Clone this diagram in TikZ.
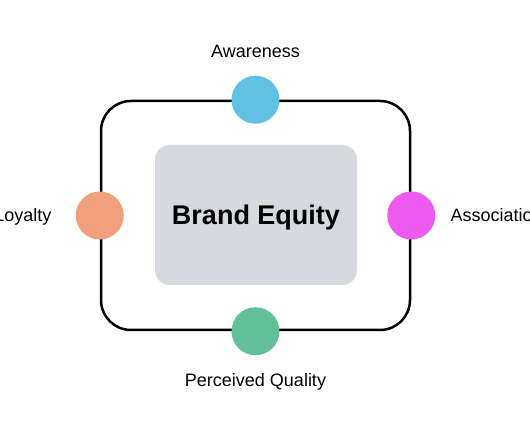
\documentclass[tikz,border=0pt]{standalone}
\usepackage{fontspec}
\setmainfont{Liberation Sans}
\usetikzlibrary{
  positioning
}
\definecolor{awarecolor}{RGB}{96,193,228}
\definecolor{loyalcolor}{RGB}{240,160,124}
\definecolor{assoccolor}{RGB}{236,90,240}
\definecolor{qualitycolor}{RGB}{98,192,153}
\definecolor{corecolor}{RGB}{214,217,222}
\tikzset{
  ring/.style={
    rectangle,
    draw=black,
    line width=2.5pt,
    rounded corners=30pt,
    minimum width=309pt,
    minimum height=229pt
  },
  core/.style={
    rectangle,
    fill=corecolor,
    rounded corners=15pt,
    minimum width=202pt,
    minimum height=140pt,
    text height=19.5pt,
    text depth=0pt,
    font=\fontsize{27}{32}\selectfont\bfseries
  },
  dimension/.style={
    circle,
    fill=#1,
    minimum size=48pt,
    inner sep=0pt
  },
  dimlabel/.style={
    inner sep=0pt,
    text height=13pt,
    text depth=0pt,
    font=\fontsize{18}{22}\selectfont
  }
}

\begin{document}
\begin{tikzpicture}
  \useasboundingbox (0,0) rectangle (530pt,442pt);

  % Outer loop
  \node[ring] (ring) at (255.5pt,226.5pt) {};

  % Centre
  \node[core] (equity) at (256pt,227pt) {Brand Equity};

  % Dimensions on the loop
  \node[dimension=awarecolor] (aware) at (ring.north) {};
  \node[dimension=loyalcolor] (loyal) at (ring.west) {};
  \node[dimension=assoccolor] (assoc) at (ring.east) {};
  \node[dimension=qualitycolor] (quality) at (ring.south) {};

  % Labels
  \node[dimlabel, above=18pt of aware] (awarelabel) {Awareness};
  \node[dimlabel, left=24pt of loyal] (loyallabel) {Loyalty};
  \node[dimlabel, right=15pt of assoc] (assoclabel) {Association};
  \node[dimlabel, below=18pt of quality] (qualitylabel) {Perceived Quality};

\end{tikzpicture}
\end{document}
